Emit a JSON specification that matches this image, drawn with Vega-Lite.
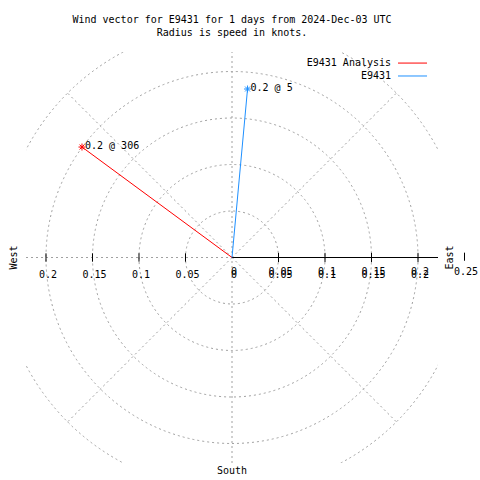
{
  "$schema": "https://vega.github.io/schema/vega-lite/v6.json",
  "autosize": {"type": "none"},
  "padding": {"left": 26, "top": 52, "right": 42, "bottom": 17},
  "width": 412,
  "height": 411,
  "background": "white",
  "config": {"view": {"stroke": null}, "text": {"font": "DejaVu Sans Mono", "fontSize": 10, "color": "black"}},
  "title": {
    "text": ["Wind vector for E9431 for 1 days from 2024-Dec-03 UTC", "Radius is speed in knots."],
    "font": "DejaVu Sans Mono", "fontSize": 10, "fontWeight": "normal", "color": "black",
    "anchor": "middle", "frame": "group", "lineHeight": 13, "offset": 14
  },
  "encoding": {
    "x": {"type": "quantitative", "scale": {"domain": [-0.2215, 0.2215], "nice": false, "zero": false}, "axis": null},
    "y": {"type": "quantitative", "scale": {"domain": [-0.221, 0.221], "nice": false, "zero": false}, "axis": null}
  },
  "layer": [
    {
      "data": {"values": [{"r": 0.05, "x": 0, "y": 0}, {"r": 0.1, "x": 0, "y": 0}, {"r": 0.15, "x": 0, "y": 0}, {"r": 0.2, "x": 0, "y": 0}, {"r": 0.25, "x": 0, "y": 0}]},
      "mark": {"type": "point", "shape": "circle", "filled": false, "stroke": "#a0a0a0", "strokeWidth": 1, "strokeDash": [2, 3], "opacity": 1, "clip": true},
      "encoding": {
        "x": {"field": "x", "type": "quantitative"},
        "y": {"field": "y", "type": "quantitative"},
        "size": {"field": "r", "type": "quantitative", "scale": {"type": "pow", "exponent": 2, "domain": [0, 0.25], "range": [0, 216225]}, "legend": null}
      }
    },
    {
      "data": {"values": [
        {"x": 0, "y": 0, "x2": 0.17678, "y2": 0.17678},
        {"x": 0, "y": 0, "x2": -0.17678, "y2": 0.17678},
        {"x": 0, "y": 0, "x2": 0.17678, "y2": -0.17678},
        {"x": 0, "y": 0, "x2": -0.17678, "y2": -0.17678},
        {"x": 0, "y": -0.221, "x2": 0, "y2": 0.221},
        {"x": -0.2215, "y": 0, "x2": 0.2215, "y2": 0}
      ]},
      "mark": {"type": "rule", "stroke": "#a0a0a0", "strokeWidth": 1, "strokeDash": [2, 3]},
      "encoding": {
        "x": {"field": "x", "type": "quantitative"},
        "y": {"field": "y", "type": "quantitative"},
        "x2": {"field": "x2"},
        "y2": {"field": "y2"}
      }
    },
    {
      "data": {"values": [{"x": 0, "y": 0, "x2": 0.2215, "y2": 0}]},
      "mark": {"type": "rule", "stroke": "black", "strokeWidth": 1},
      "encoding": {
        "x": {"field": "x", "type": "quantitative"},
        "y": {"field": "y", "type": "quantitative"},
        "x2": {"field": "x2"},
        "y2": {"field": "y2"}
      }
    },
    {
      "data": {"values": [
        {"x": -0.2, "y": -0.0045, "y2": 0.0045},
        {"x": -0.15, "y": -0.0045, "y2": 0.0045},
        {"x": -0.1, "y": -0.0045, "y2": 0.0045},
        {"x": -0.05, "y": -0.0045, "y2": 0.0045},
        {"x": 0.05, "y": -0.005, "y2": 0.005},
        {"x": 0.1, "y": -0.005, "y2": 0.005},
        {"x": 0.15, "y": -0.005, "y2": 0.005},
        {"x": 0.2, "y": -0.005, "y2": 0.005},
        {"x": 0.25, "y": -0.0035, "y2": 0.0052}
      ]},
      "mark": {"type": "rule", "stroke": "black", "strokeWidth": 1},
      "encoding": {
        "x": {"field": "x", "type": "quantitative"},
        "y": {"field": "y", "type": "quantitative"},
        "y2": {"field": "y2"}
      }
    },
    {
      "data": {"values": [
        {"x": -0.2, "y": -0.0188, "label": "0.2"},
        {"x": -0.15, "y": -0.0188, "label": "0.15"},
        {"x": -0.1, "y": -0.0188, "label": "0.1"},
        {"x": -0.05, "y": -0.0188, "label": "0.05"},
        {"x": 0, "y": -0.0188, "label": "0"},
        {"x": 0.05, "y": -0.0188, "label": "0.05"},
        {"x": 0.1, "y": -0.0188, "label": "0.1"},
        {"x": 0.15, "y": -0.0188, "label": "0.15"},
        {"x": 0.2, "y": -0.0188, "label": "0.2"}
      ]},
      "mark": {"type": "text", "align": "center", "baseline": "middle", "dx": 2},
      "encoding": {
        "x": {"field": "x", "type": "quantitative"},
        "y": {"field": "y", "type": "quantitative"},
        "text": {"field": "label"}
      }
    },
    {
      "data": {"values": [
        {"x": 0, "y": -0.0188, "label": "0"},
        {"x": 0.05, "y": -0.0188, "label": "0.05"},
        {"x": 0.1, "y": -0.0188, "label": "0.1"},
        {"x": 0.15, "y": -0.0188, "label": "0.15"},
        {"x": 0.2, "y": -0.0188, "label": "0.2"}
      ]},
      "mark": {"type": "text", "align": "center", "baseline": "middle", "dx": 2, "dy": -3},
      "encoding": {
        "x": {"field": "x", "type": "quantitative"},
        "y": {"field": "y", "type": "quantitative"},
        "text": {"field": "label"}
      }
    },
    {
      "data": {"values": [
        {"x": 0.2516, "y": -0.0156, "label": "0.25", "angle": 0},
        {"x": 0.2344, "y": 0, "label": "East", "angle": 270},
        {"x": -0.2344, "y": 0, "label": "West", "angle": 270},
        {"x": 0, "y": -0.2296, "label": "South", "angle": 0}
      ]},
      "mark": {"type": "text", "align": "center", "baseline": "middle"},
      "encoding": {
        "x": {"field": "x", "type": "quantitative"},
        "y": {"field": "y", "type": "quantitative"},
        "text": {"field": "label"},
        "angle": {"field": "angle", "type": "quantitative", "scale": null}
      }
    },
    {
      "data": {"values": [
        {"series": "E9431 Analysis", "x": 0, "y": 0, "x2": -0.1613, "y2": 0.1188, "label": "0.2 @ 306"},
        {"series": "E9431", "x": 0, "y": 0, "x2": 0.0167, "y2": 0.1812, "label": "0.2 @ 5"}
      ]},
      "layer": [
        {
          "mark": {"type": "rule", "strokeWidth": 1},
          "encoding": {
            "x": {"field": "x", "type": "quantitative"},
            "y": {"field": "y", "type": "quantitative"},
            "x2": {"field": "x2"},
            "y2": {"field": "y2"},
            "color": {"field": "series", "type": "nominal", "scale": {"domain": ["E9431 Analysis", "E9431"], "range": ["#ff0000", "#1e90ff"]}, "legend": null}
          }
        },
        {
          "mark": {"type": "point", "shape": "M-1,0L1,0M0,-1L0,1M-0.7,-0.7L0.7,0.7M-0.7,0.7L0.7,-0.7", "filled": false, "size": 49, "strokeWidth": 1, "opacity": 1},
          "encoding": {
            "x": {"field": "x2", "type": "quantitative"},
            "y": {"field": "y2", "type": "quantitative"},
            "color": {"field": "series", "type": "nominal", "scale": {"domain": ["E9431 Analysis", "E9431"], "range": ["#ff0000", "#1e90ff"]}, "legend": null}
          }
        },
        {
          "mark": {"type": "text", "align": "left", "baseline": "middle", "dx": 3, "dy": -1},
          "encoding": {
            "x": {"field": "x2", "type": "quantitative"},
            "y": {"field": "y2", "type": "quantitative"},
            "text": {"field": "label"}
          }
        }
      ]
    },
    {
      "data": {"values": [
        {"series": "E9431 Analysis", "tx": 0.171, "lx": 0.1785, "lx2": 0.2097, "y": 0.2091},
        {"series": "E9431", "tx": 0.171, "lx": 0.1785, "lx2": 0.2097, "y": 0.1952}
      ]},
      "layer": [
        {
          "mark": {"type": "text", "align": "right", "baseline": "middle"},
          "encoding": {
            "x": {"field": "tx", "type": "quantitative"},
            "y": {"field": "y", "type": "quantitative"},
            "text": {"field": "series"}
          }
        },
        {
          "mark": {"type": "rule", "strokeWidth": 1},
          "encoding": {
            "x": {"field": "lx", "type": "quantitative"},
            "x2": {"field": "lx2"},
            "y": {"field": "y", "type": "quantitative"},
            "color": {"field": "series", "type": "nominal", "scale": {"domain": ["E9431 Analysis", "E9431"], "range": ["#ff0000", "#1e90ff"]}, "legend": null}
          }
        }
      ]
    }
  ]
}
